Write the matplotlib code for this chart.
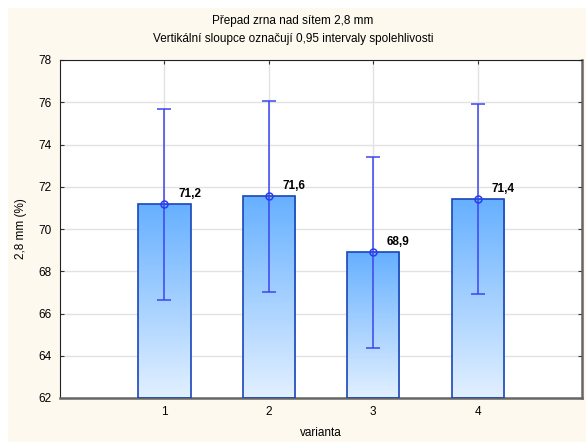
import numpy as np
import matplotlib.pyplot as plt
from matplotlib.patches import Rectangle

plt.rcParams['font.family'] = ['Liberation Sans', 'DejaVu Sans']

varianta = [1, 2, 3, 4]
means = [71.17, 71.57, 68.89, 71.41]
lower = [66.65, 67.03, 64.38, 66.90]
upper = [75.68, 76.06, 73.40, 75.92]
yticks = [62, 64, 66, 68, 70, 72, 74, 76, 78]

fig = plt.figure(figsize=(5.86, 4.42), dpi=100, facecolor='white')
# cream panel behind everything, white strip on top and left
fig.patches.append(Rectangle((8 / 586, 0), 1, 1 - 8 / 442, transform=fig.transFigure,
                             facecolor='#fdf9ee', edgecolor='none', zorder=-10))

ax = fig.add_axes([60 / 586, 44 / 442, 522 / 586, 338 / 442])
ax.set_facecolor('white')

ax.set_xticks(varianta)
ax.set_yticks(yticks)
ax.grid(True, color='#e2e2e2', linewidth=1)
ax.set_axisbelow(True)

grad = np.linspace(0, 1, 256).reshape(-1, 1)
cmap = plt.matplotlib.colors.LinearSegmentedColormap.from_list('g', ['#e2f0ff', '#66b0ff'])

bars = ax.bar(varianta, [m - 62 for m in means], bottom=62, width=0.5,
              facecolor='none', edgecolor='#1a46b8', linewidth=1.2, zorder=3)
for b in bars:
    x0, y0 = b.get_x(), b.get_y()
    im = ax.imshow(grad, extent=[x0, x0 + b.get_width(), y0, y0 + b.get_height()],
                   origin='lower', aspect='auto', cmap=cmap, zorder=2)
    im.set_clip_path(b)

ax.set_xlim(0, 5)
ax.set_ylim(62, 78)

yerr = [np.array(means) - np.array(lower), np.array(upper) - np.array(means)]
ax.errorbar(varianta, means, yerr=yerr, fmt='o', color='#2b3cf0', ecolor='#3b45f0',
            elinewidth=1.1, capsize=5, capthick=1.1, markersize=5,
            markerfacecolor='none', markeredgewidth=1.1, zorder=4)

for x, m in zip(varianta, means):
    ax.annotate(f'{m:.1f}'.replace('.', ','), (x, m), xytext=(10, 3),
                textcoords='offset points', ha='left', va='bottom',
                fontsize=8.5, fontweight='bold', color='black', zorder=5)

ax.tick_params(direction='in', length=3, labelsize=8.5, top=True, right=True,
               color='#333333', pad=6)
for side in ['left', 'top']:
    ax.spines[side].set_color('#222222')
for side in ['right', 'bottom']:
    ax.spines[side].set_color('#666666')
    ax.spines[side].set_linewidth(1.8)

ax.set_yticklabels([str(t) for t in yticks])
ax.set_xlabel('varianta', fontsize=8.5, labelpad=6)
ax.set_ylabel('2,8 mm (%)', fontsize=8.5, labelpad=8)

fig.text(0.5, 1 - 21 / 442, 'Přepad zrna nad sítem 2,8 mm', ha='center', va='center', fontsize=8.5)
fig.text(0.5, 1 - 39 / 442, 'Vertikální sloupce označují 0,95 intervaly spolehlivosti',
         ha='center', va='center', fontsize=8.5)

fig.savefig('out.png', dpi=100, facecolor=fig.get_facecolor())
